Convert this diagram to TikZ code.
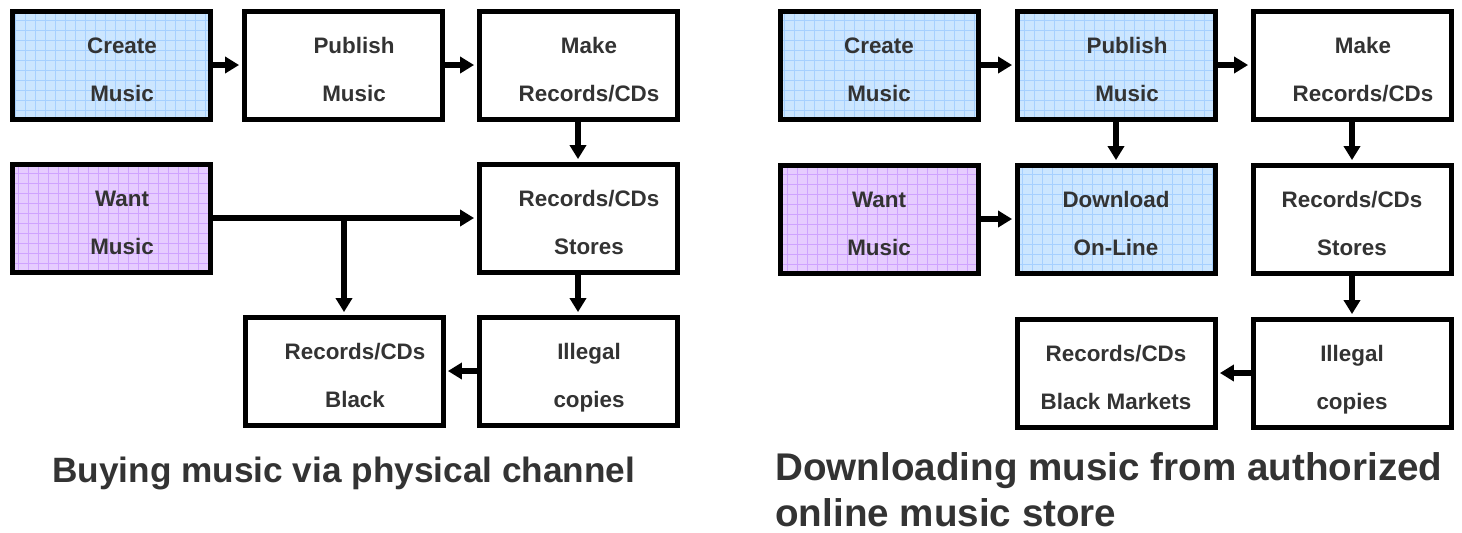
\documentclass[tikz,border=0pt]{standalone}
\usepackage{fontspec}
\setmainfont{Liberation Sans}
\usepackage{xcolor}
\usetikzlibrary{arrows.meta}

\definecolor{fillblue}{HTML}{CCE6FF}
\definecolor{gridblue}{HTML}{A6D0FF}
\definecolor{fillpurple}{HTML}{E6CCFF}
\definecolor{gridpurple}{HTML}{CFA3FF}
\definecolor{txtgray}{HTML}{333333}

\def\boxnudge{0pt}
\newcommand\twoline[2]{\raisebox{-1.5pt}[\height][\depth]{\begin{tabular}{@{\hspace{\boxnudge}}c@{}}#1\\#2\end{tabular}}}

\tikzset{
  box/.style={draw, line width=2.5pt, minimum width=99pt, minimum height=54pt, inner sep=0pt,
    text=txtgray, font=\fontsize{11.2}{24}\selectfont\bfseries,
    /utils/exec=\def\boxnudge{0pt}},
  nudge/.code={\def\boxnudge{11pt}},
  blue box/.style={fill=fillblue, path picture={\draw[gridblue, line width=0.4pt]
    (path picture bounding box.south west) grid[step=5pt] (path picture bounding box.north east);}},
  purple box/.style={fill=fillpurple, path picture={\draw[gridpurple, line width=0.4pt]
    (path picture bounding box.south west) grid[step=5pt] (path picture bounding box.north east);}},
  flow/.style={line width=3pt, -{Triangle[length=7pt,width=8pt]}, shorten >=1.2pt},
  caption/.style={text=txtgray, font=\fontsize{17.6}{23}\selectfont\bfseries, inner sep=0pt, align=left}
}

\begin{document}
\begin{tikzpicture}[x=0.5pt,y=-0.5pt]
\useasboundingbox (0,0) rectangle (1462,532);

% physical channel
\node[box,nudge,blue box] (c1) at (111,65) {\twoline{Create}{Music}};
\node[box,nudge] (p1) at (343,65) {\twoline{Publish}{Music}};
\node[box,nudge] (m1) at (578,65) {\twoline{Make}{Records/CDs}};
\node[box,nudge,purple box] (w1) at (111,218) {\twoline{Want}{Music}};
\node[box,nudge] (s1) at (578,218) {\twoline{Records/CDs}{Stores}};
\node[box,nudge] (b1) at (344,371) {\twoline{Records/CDs}{Black}};
\node[box,nudge] (i1) at (578,371) {\twoline{Illegal}{copies}};

\draw[flow] (c1) -- (p1);
\draw[flow] (p1) -- (m1);
\draw[flow] (m1) -- (s1);
\draw[flow] (w1) -- (s1);
\draw[flow] (b1.north |- w1.east) -- (b1);
\draw[flow] (s1) -- (i1);
\draw[flow] (i1) -- (b1);

% authorized online store
\node[box,blue box] (c2) at (879,65) {\twoline{Create}{Music}};
\node[box,nudge,blue box] (p2) at (1116,65) {\twoline{Publish}{Music}};
\node[box,nudge] (m2) at (1352,65) {\twoline{Make}{Records/CDs}};
\node[box,purple box] (w2) at (879,219) {\twoline{Want}{Music}};
\node[box,blue box] (d2) at (1116,219) {\twoline{Download}{On-Line}};
\node[box] (s2) at (1352,219) {\twoline{Records/CDs}{Stores}};
\node[box] (k2) at (1116,373) {\twoline{Records/CDs}{Black Markets}};
\node[box] (i2) at (1352,373) {\twoline{Illegal}{copies}};

\draw[flow] (c2) -- (p2);
\draw[flow] (p2) -- (m2);
\draw[flow] (p2) -- (d2);
\draw[flow] (w2) -- (d2);
\draw[flow] (m2) -- (s2);
\draw[flow] (s2) -- (i2);
\draw[flow] (i2) -- (k2);

\node[caption,anchor=west] (cap1) at (52,473) {Buying music via physical channel};
\node[caption,anchor=west,font=\fontsize{19.3}{23}\selectfont\bfseries] (cap2) at (775,490) {Downloading music from authorized\\online music store};
\end{tikzpicture}
\end{document}
